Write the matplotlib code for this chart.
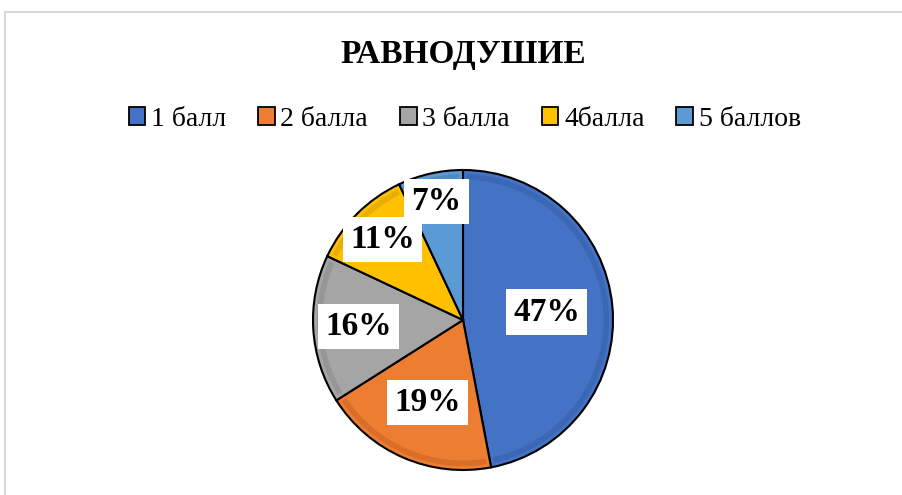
import matplotlib
matplotlib.use("Agg")
import matplotlib.pyplot as plt
import numpy as np
from matplotlib.lines import Line2D
from matplotlib.patches import Patch, Arc

categories = ["1 балл", "2 балла", "3 балла", "4балла", "5 баллов"]
values = [47, 19, 16, 11, 7]
labels = ["47%", "19%", "16%", "11%", "7%"]
colors = ["#4472C4", "#ED7D31", "#A5A5A5", "#FFC000", "#5B9BD5"]
inner_edge = ["#3B67B5", "#D86E27", "#969696", "#E8AE00", "#4E8BC4"]
label_radius = [0.56, 0.60, 0.70, 0.76, 0.81]

plt.rcParams['font.family'] = ['Liberation Serif', 'DejaVu Serif']

W, H = 902, 495
fig = plt.figure(figsize=(W / 100, H / 100), dpi=100)
fig.patch.set_facecolor("white")

# frame lines (light gray)
fig.add_artist(Line2D([5 / W, 1.0], [1 - 12 / H, 1 - 12 / H], color="#D9D9D9", lw=1.5,
                      transform=fig.transFigure))
fig.add_artist(Line2D([5 / W, 5 / W], [0.0, 1 - 12 / H], color="#D9D9D9", lw=1.5,
                      transform=fig.transFigure))

cx, cy, r = 463, 320, 153
ax = fig.add_axes([(cx - r) / W, (H - cy - r) / H, 2 * r / W, 2 * r / H])
wedges, _ = ax.pie(values, colors=colors, startangle=90, counterclock=False,
                   wedgeprops=dict(edgecolor="black", linewidth=1.5))
# subtle bevel band inside the rim
for w, ec in zip(wedges, inner_edge):
    ax.add_patch(Arc((0, 0), 2 * 0.955, 2 * 0.955, theta1=w.theta1 + 1.5,
                     theta2=w.theta2 - 1.5, color=ec, lw=4, zorder=2))
ax.set_xlim(-1.02, 1.02)
ax.set_ylim(-1.02, 1.02)
ax.set_aspect("equal")
ax.axis("off")

for w, lab, rr in zip(wedges, labels, label_radius):
    ang = np.deg2rad((w.theta1 + w.theta2) / 2)
    ax.text(rr * np.cos(ang), rr * np.sin(ang), lab, ha="center", va="center",
            fontsize=24, fontweight="bold", zorder=5,
            bbox=dict(boxstyle="square,pad=0.22", facecolor="white", edgecolor="none"))

fig.text(cx / W, 1 - 54 / H, "РАВНОДУШИЕ", ha="center", va="center",
         fontsize=24, fontweight="bold")

handles = [Patch(facecolor=c, edgecolor="black", linewidth=1.3) for c in colors]
fig.legend(handles, categories, loc="center", bbox_to_anchor=(cx / W + 0.002, 1 - 119 / H),
           ncol=5, frameon=False, fontsize=20, handlelength=0.6, handleheight=0.6,
           handletextpad=0.2, columnspacing=1.15)

fig.savefig("out.png", dpi=100)
